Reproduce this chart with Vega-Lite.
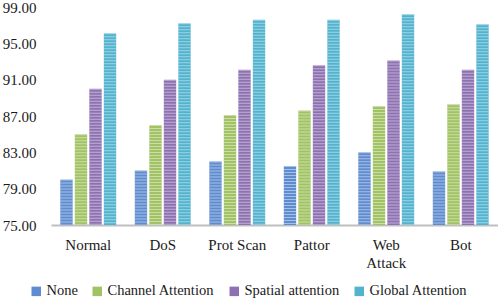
{
  "$schema": "https://vega.github.io/schema/vega-lite/v6.json",
  "width": 447,
  "height": 218,
  "autosize": {"type": "none"},
  "padding": {"left": 51, "top": 7, "right": 0, "bottom": 73},
  "config": {
    "view": {"stroke": null},
    "font": "'Liberation Serif', 'Times New Roman', serif",
    "axis": {"labelFont": "'Liberation Serif', 'Times New Roman', serif", "labelFontSize": 15, "labelColor": "#1a1a1a", "grid": false, "ticks": false, "title": null},
    "legend": {"labelFont": "'Liberation Serif', 'Times New Roman', serif", "labelFontSize": 14.5, "labelColor": "#1a1a1a"}
  },
  "data": {
    "values": [
      {"category": "Normal", "series": "None", "value": 80.0},
      {"category": "Normal", "series": "Channel Attention", "value": 85.0},
      {"category": "Normal", "series": "Spatial attention", "value": 90.0},
      {"category": "Normal", "series": "Global Attention", "value": 96.1},
      {"category": "DoS", "series": "None", "value": 81.0},
      {"category": "DoS", "series": "Channel Attention", "value": 86.0},
      {"category": "DoS", "series": "Spatial attention", "value": 91.0},
      {"category": "DoS", "series": "Global Attention", "value": 97.2},
      {"category": "Prot Scan", "series": "None", "value": 82.0},
      {"category": "Prot Scan", "series": "Channel Attention", "value": 87.1},
      {"category": "Prot Scan", "series": "Spatial attention", "value": 92.1},
      {"category": "Prot Scan", "series": "Global Attention", "value": 97.6},
      {"category": "Pattor", "series": "None", "value": 81.5},
      {"category": "Pattor", "series": "Channel Attention", "value": 87.6},
      {"category": "Pattor", "series": "Spatial attention", "value": 92.6},
      {"category": "Pattor", "series": "Global Attention", "value": 97.6},
      {"category": "Web Attack", "series": "None", "value": 83.0},
      {"category": "Web Attack", "series": "Channel Attention", "value": 88.1},
      {"category": "Web Attack", "series": "Spatial attention", "value": 93.1},
      {"category": "Web Attack", "series": "Global Attention", "value": 98.2},
      {"category": "Bot", "series": "None", "value": 80.9},
      {"category": "Bot", "series": "Channel Attention", "value": 88.3},
      {"category": "Bot", "series": "Spatial attention", "value": 92.1},
      {"category": "Bot", "series": "Global Attention", "value": 97.1}
    ]
  },
  "encoding": {
    "x": {
      "field": "category", "type": "nominal",
      "sort": ["Normal", "DoS", "Prot Scan", "Pattor", "Web Attack", "Bot"],
      "scale": {"paddingInner": 0.25, "paddingOuter": 0.125},
      "axis": {
        "labelAngle": 0, "domainColor": "#bfbfbf", "domainWidth": 2, "labelPadding": 12,
        "labelExpr": "datum.value == 'Web Attack' ? ['Web', 'Attack'] : datum.value",
        "labelLineHeight": 18
      }
    },
    "xOffset": {
      "field": "series", "type": "nominal",
      "sort": ["None", "Channel Attention", "Spatial attention", "Global Attention"],
      "scale": {"paddingInner": 0.15, "paddingOuter": 0}
    },
    "y": {
      "field": "value", "type": "quantitative",
      "scale": {"domain": [75, 99], "nice": false, "zero": false},
      "axis": {"values": [75, 79, 83, 87, 91, 95, 99], "format": ".2f", "domain": false, "labelPadding": 15}
    },
    "y2": {"datum": 75}
  },
  "layer": [
    {
      "mark": {"type": "bar"},
      "encoding": {
        "color": {
          "field": "series", "type": "nominal",
          "scale": {
            "domain": ["None", "Channel Attention", "Spatial attention", "Global Attention"],
            "range": ["#5f8cd0", "#a1c363", "#8d71b2", "#52b3cf"]
          },
          "legend": {
            "title": null, "orient": "none", "direction": "horizontal",
            "legendX": -22, "legendY": 277,
            "symbolType": "square", "symbolSize": 90, "symbolStrokeWidth": 0,
            "labelOffset": 3, "columnPadding": 12
          }
        }
      }
    },
    {
      "mark": {"type": "rule", "color": "white", "strokeWidth": 12.3, "strokeDash": [1, 2], "opacity": 0.45},
      "encoding": {}
    }
  ]
}
